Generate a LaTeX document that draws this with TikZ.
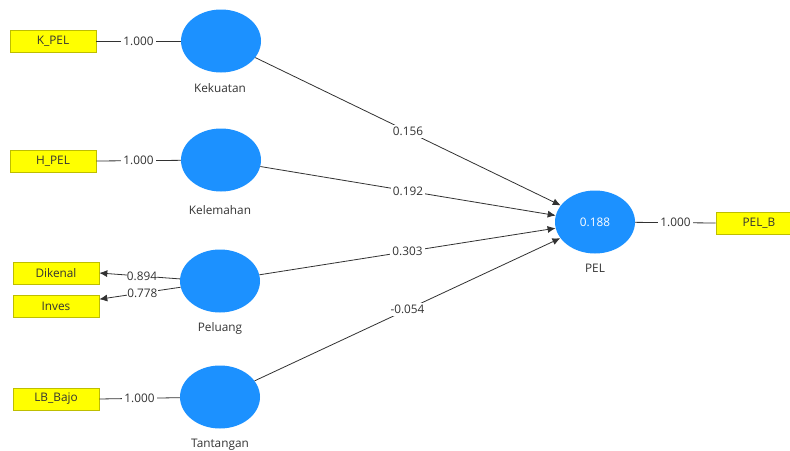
\documentclass[tikz,border=0pt]{standalone}
\usepackage{fontspec}
\setmainfont{Open Sans}
\usetikzlibrary{arrows.meta,shapes.geometric,calc}
\definecolor{lvblue}{RGB}{28,145,255}
\definecolor{indyellow}{RGB}{255,255,0}
\definecolor{indborder}{RGB}{190,190,0}
\definecolor{linegray}{RGB}{50,50,50}
\begin{document}
\begin{tikzpicture}[x=1pt,y=-1pt,
  font=\fontsize{11.8}{13}\selectfont,
  latent/.style={ellipse,fill=lvblue,draw=none,minimum width=80pt,minimum height=63pt,inner sep=0pt,text=white},
  indicator/.style={rectangle,fill=indyellow,draw=indborder,line width=0.6pt,minimum width=86pt,minimum height=22pt,inner sep=0pt,text=black!80},
  lvname/.style={text=black!80,inner sep=1pt},
  conn/.style={draw=linegray,line width=0.8pt},
  arr/.style={conn,-{Latex[length=8pt,width=7pt]}},
  coef/.style={fill=white,inner sep=2pt,text=black!80}]
\useasboundingbox (0,0) rectangle (790,450);
\clip (0,0) rectangle (790,450);
\fill[white] (0,0) rectangle (790,450);

% latent variables
\node[latent] (Kekuatan) at (221,41) {};
\node[latent] (Kelemahan) at (221,160) {};
\node[latent] (Peluang) at (220,281) {};
\node[latent] (Tantangan) at (220,397) {};
\node[latent] (PEL) at (595,222) {0.188};

% names
\node[lvname] (nKekuatan) at (220,88) {Kekuatan};
\node[lvname] (nKelemahan) at (220,210) {Kelemahan};
\node[lvname] (nPeluang) at (220,328) {Peluang};
\node[lvname] (nTantangan) at (220,445) {Tantangan};
\node[lvname] (nPEL) at (595,268) {PEL};

% indicators
\node[indicator] (KPEL) at (53,41) {K\_PEL};
\node[indicator] (HPEL) at (53,161) {H\_PEL};
\node[indicator] (Dikenal) at (56,273) {Dikenal};
\node[indicator] (Inves) at (56,306) {Inves};
\node[indicator] (LBBajo) at (56,399) {LB\_Bajo};
\node[indicator] (PELB) at (759,223) {PEL\_B};

% outer model
\path[conn] (KPEL.east) -- node[coef,pos=0.5] {1.000} (Kekuatan.west);
\path[conn] (HPEL.east) -- node[coef,pos=0.5] {1.000} (Kelemahan);
\path[conn] (LBBajo.east) -- node[coef,pos=0.5] {1.000} (Tantangan);
\path[conn] (PEL) -- node[coef,pos=0.5] {1.000} (PELB.west);
\path[arr] (Peluang.177) -- node[coef,pos=0.47,inner sep=0.3pt] {0.894} (Dikenal.east);
\path[arr] (Peluang.189) -- node[coef,pos=0.47,inner sep=0.3pt] {0.778} ($(Inves.north east)!0.2!(Inves.south east)$);

% inner model
\path[arr] (Kekuatan) -- node[coef,pos=0.5] {0.156} (PEL);
\path[arr] (Kelemahan) -- node[coef,pos=0.5] {0.192} (PEL);
\path[arr] (Peluang) -- node[coef,pos=0.5] {0.303} (PEL);
\path[arr] (Tantangan) -- node[coef,pos=0.5] {-0.054} (PEL);
\end{tikzpicture}
\end{document}
